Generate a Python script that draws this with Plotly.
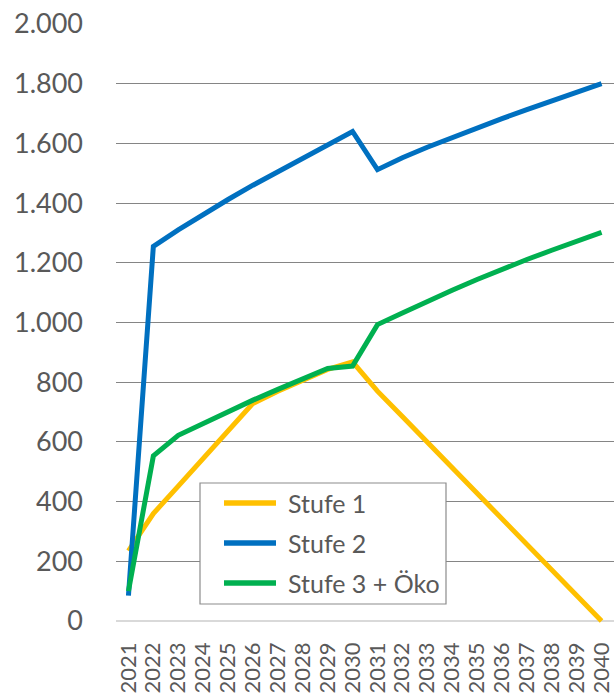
import plotly.graph_objects as go

# Years on the category axis
years = [str(y) for y in range(2021, 2041)]

# Series values
stufe_1 = [235, 360, 452, 544, 636, 729, 770, 808, 843, 868,
           770, 685, 600, 515, 428, 342, 256, 170, 85, 0]
stufe_2 = [85, 1255, 1310, 1362, 1412, 1460, 1506, 1550, 1595, 1640,
           1512, 1552, 1587, 1620, 1652, 1683, 1713, 1743, 1772, 1800]
stufe_3_oeko = [100, 553, 622, 662, 700, 740, 776, 812, 846, 854,
                993, 1032, 1071, 1108, 1144, 1179, 1211, 1242, 1272, 1302]

series_names = ["Stufe 1", "Stufe 2", "Stufe 3 + Öko"]
series_values = [stufe_1, stufe_2, stufe_3_oeko]
series_colors = ["#FFC000", "#0070C0", "#00B050"]

y_ticks = list(range(0, 2001, 200))

W, H = 614, 694
M_L, M_R, M_T, M_B = 116, 0, 24, 70
FONT = "Lato, 'Open Sans', sans-serif"
TEXT_GRAY = "#595959"

fig = go.Figure()
for name, vals, col in zip(series_names, series_values, series_colors):
    fig.add_trace(go.Scatter(
        x=years, y=vals, name=name, mode="lines",
        line=dict(color=col, width=5),
        showlegend=False,
    ))

# Pixel -> paper conversion for the hand-built legend box
plot_w = W - M_L - M_R
plot_h = H - M_T - M_B


def px_x(px):
    return (px - M_L) / plot_w


def px_y(py):
    return (H - M_B - py) / plot_h


shapes = [dict(
    type="rect", xref="paper", yref="paper",
    x0=px_x(200), x1=px_x(446), y0=px_y(604), y1=px_y(483),
    fillcolor="white", line=dict(color="#8c8c8c", width=1.2), layer="above",
)]
annotations = []
row_y = [503, 543, 583]
for name, col, ry in zip(series_names, series_colors, row_y):
    shapes.append(dict(
        type="line", xref="paper", yref="paper",
        x0=px_x(224), x1=px_x(276), y0=px_y(ry), y1=px_y(ry),
        line=dict(color=col, width=5.5), layer="above",
    ))
    annotations.append(dict(
        xref="paper", yref="paper", x=px_x(286), y=px_y(ry),
        text=name, showarrow=False, xanchor="left", yanchor="middle",
        font=dict(family=FONT, size=25, color=TEXT_GRAY),
    ))

fig.update_layout(
    width=W, height=H,
    margin=dict(l=M_L, r=M_R, t=M_T, b=M_B, pad=0),
    paper_bgcolor="white", plot_bgcolor="white",
    separators=",.",
    shapes=shapes, annotations=annotations,
    xaxis=dict(
        type="category", range=[-0.5, 19.5], automargin=False,
        tickmode="array", tickvals=years, ticktext=years,
        showgrid=False, showline=False, ticks="",
        tickangle=-90, ticklabelstandoff=13,
        tickfont=dict(family=FONT, size=22, color=TEXT_GRAY),
    ),
    yaxis=dict(
        range=[-10, 2000], tickvals=y_ticks, tickformat=",d", automargin=False,
        showgrid=True, gridcolor="#858585", gridwidth=1.3,
        zeroline=True, zerolinecolor="#d9d9d9", zerolinewidth=1.5,
        showline=False, ticks="", ticklabelstandoff=32,
        tickfont=dict(family=FONT, size=27, color=TEXT_GRAY),
    ),
)

fig.write_html("out.html")
